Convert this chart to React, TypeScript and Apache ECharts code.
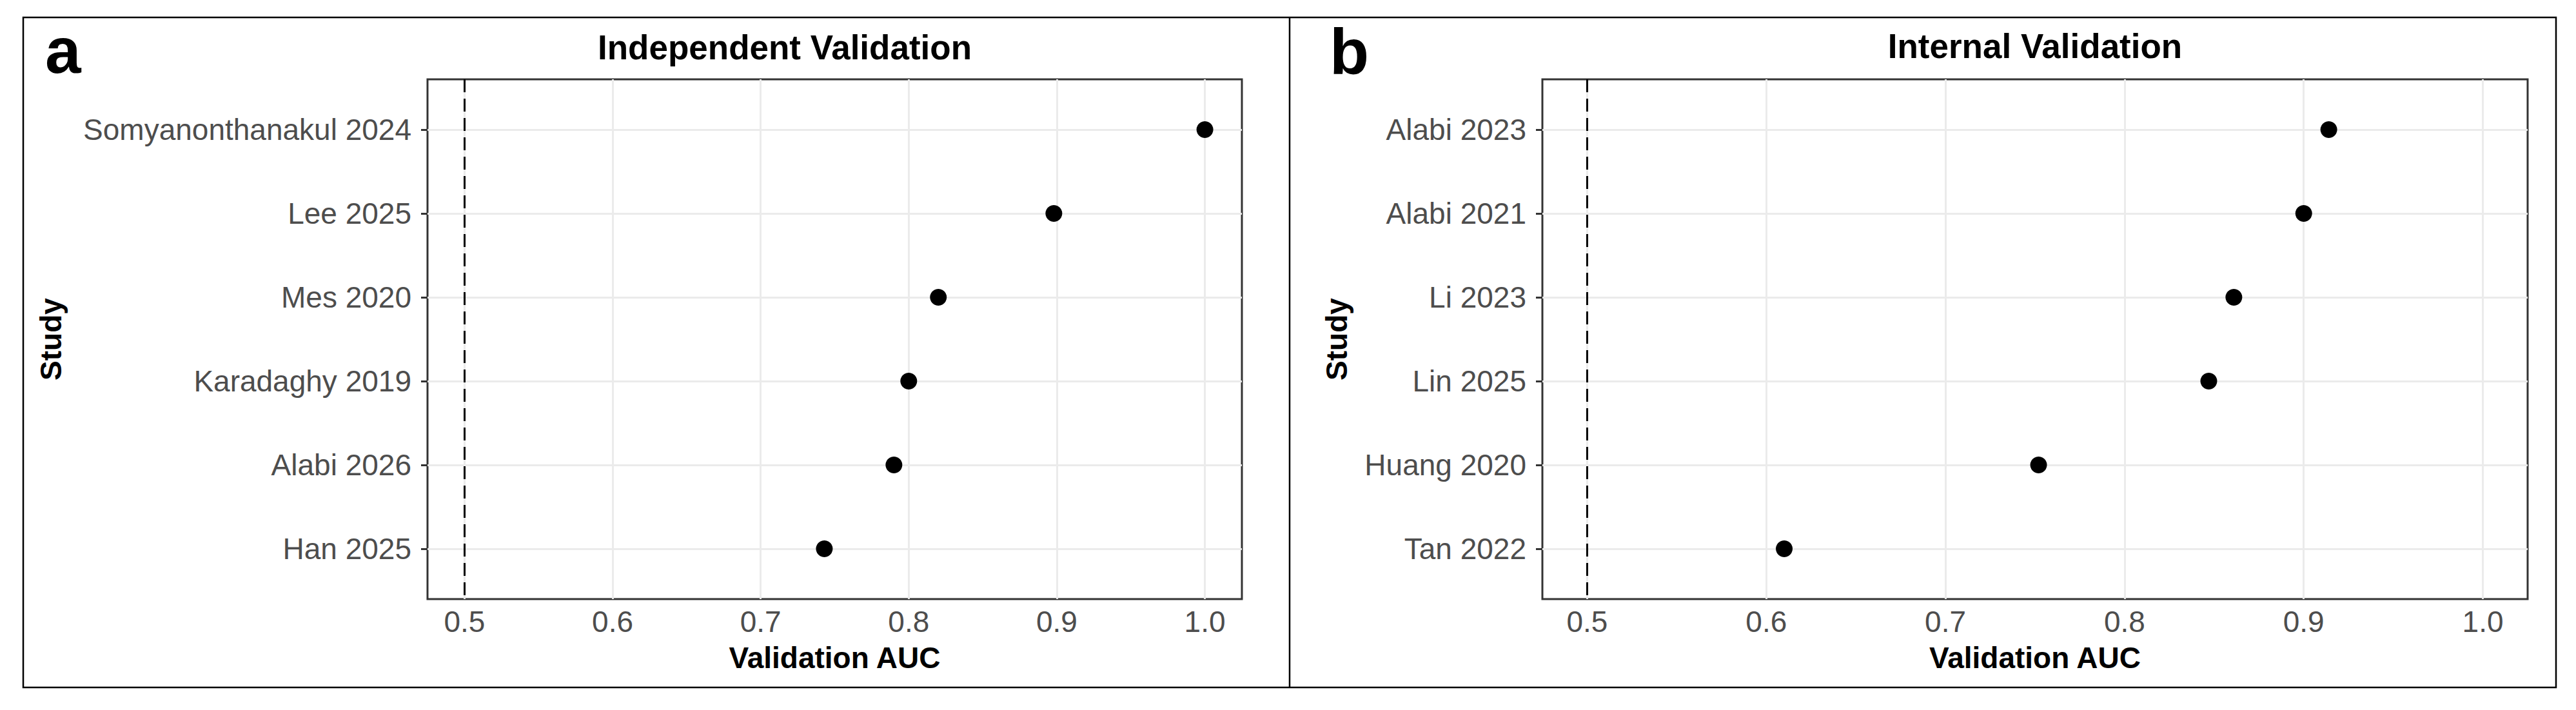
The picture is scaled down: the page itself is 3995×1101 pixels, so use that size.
import React, { useEffect, useRef } from 'react';
import * as echarts from 'echarts';

// panel a: independent validation, top to bottom
const studiesA = ['Somyanonthanakul 2024', 'Lee 2025', 'Mes 2020', 'Karadaghy 2019', 'Alabi 2026', 'Han 2025'];
const aucA = [1.0, 0.898, 0.82, 0.8, 0.79, 0.743];

// panel b: internal validation, top to bottom
const studiesB = ['Alabi 2023', 'Alabi 2021', 'Li 2023', 'Lin 2025', 'Huang 2020', 'Tan 2022'];
const aucB = [0.914, 0.9, 0.861, 0.847, 0.752, 0.61];

const aucTicks = [0.5, 0.6, 0.7, 0.8, 0.9, 1.0];
const refAuc = 0.5;
const panelTitles = ['Independent Validation', 'Internal Validation'];
const panelLetters = ['a', 'b'];

const FONT = '"Liberation Sans", Arial, Helvetica, sans-serif';
const TICK_COLOR = '#333333';
const LABEL_COLOR = '#4d4d4d';
const GRID_COLOR = '#ebebeb';

const buildPanel = (idx: number, studies: string[], auc: number[], nameGap: number) => {
    const rows = studies.map((_, i) => i);
    const xAxis = {
        type: 'value',
        gridIndex: idx,
        min: 0.475,
        max: 1.025,
        axisLine: { show: false },
        axisTick: {
            show: true,
            customValues: aucTicks,
            length: 10,
            lineStyle: { color: TICK_COLOR, width: 3 },
        },
        axisLabel: {
            customValues: aucTicks,
            formatter: (v: number) => v.toFixed(1),
            color: LABEL_COLOR,
            fontSize: 46,
            fontFamily: FONT,
            margin: 35,
            verticalAlign: 'middle',
        },
        splitLine: { show: false },
        name: 'Validation AUC',
        nameLocation: 'middle',
        nameGap: 91,
        nameTextStyle: {
            fontSize: 46,
            fontWeight: 'bold',
            color: '#000',
            fontFamily: FONT,
            verticalAlign: 'middle',
        },
    };
    const yAxis = {
        type: 'value',
        gridIndex: idx,
        min: -0.6,
        max: 5.6,
        inverse: true,
        axisLine: { show: false },
        axisTick: {
            show: true,
            customValues: rows,
            length: 10,
            lineStyle: { color: TICK_COLOR, width: 3 },
        },
        axisLabel: {
            customValues: rows,
            formatter: (v: number) => studies[Math.round(v)] ?? '',
            color: LABEL_COLOR,
            fontSize: 46,
            fontFamily: FONT,
            margin: 25,
        },
        splitLine: { show: false },
        name: 'Study',
        nameLocation: 'middle',
        nameRotate: 90,
        nameGap: nameGap,
        nameTextStyle: {
            fontSize: 46,
            fontWeight: 'bold',
            color: '#000',
            fontFamily: FONT,
            verticalAlign: 'middle',
        },
    };
    const series = [
        {
            // background grid lines
            type: 'scatter',
            xAxisIndex: idx,
            yAxisIndex: idx,
            data: [],
            silent: true,
            markLine: {
                z: 1,
                silent: true,
                symbol: 'none',
                label: { show: false },
                lineStyle: { color: GRID_COLOR, width: 3, type: 'solid' },
                data: [
                    ...aucTicks.map((v) => ({ xAxis: v })),
                    ...rows.map((r) => ({ yAxis: r })),
                ],
            },
        },
        {
            type: 'scatter',
            xAxisIndex: idx,
            yAxisIndex: idx,
            z: 4,
            symbolSize: 26,
            itemStyle: { color: '#000', opacity: 1 },
            emphasis: { disabled: true },
            data: auc.map((v, i) => [v, i]),
            markLine: {
                z: 3,
                silent: true,
                symbol: 'none',
                label: { show: false },
                lineStyle: { color: '#000', width: 3, type: [20, 10], opacity: 1 },
                data: [{ xAxis: refAuc }],
            },
        },
    ];
    return { xAxis, yAxis, series };
};

const App: React.FC = () => {
    const chartRef = useRef<HTMLDivElement>(null);

    useEffect(() => {
        if (!chartRef.current) return;
        const chart = echarts.init(chartRef.current, null, { renderer: 'svg' });

        const a = buildPanel(0, studiesA, aucA, 584);
        const b = buildPanel(1, studiesB, aucB, 319);
        const plotBorder = { show: true, borderColor: TICK_COLOR, borderWidth: 3, backgroundColor: '#fff' };

        chart.setOption({
            animation: false,
            backgroundColor: '#fff',
            grid: [
                { left: 663, top: 123, width: 1263, height: 806, ...plotBorder },
                { left: 2392, top: 123, width: 1528, height: 806, ...plotBorder },
            ],
            xAxis: [a.xAxis, b.xAxis],
            yAxis: [a.yAxis, b.yAxis],
            series: [...a.series, ...b.series],
            graphic: [
                {
                    type: 'rect',
                    shape: { x: 36, y: 27, width: 3928, height: 1039 },
                    style: { fill: 'none', stroke: '#000', lineWidth: 2.5 },
                    silent: true,
                },
                {
                    type: 'line',
                    shape: { x1: 2000, y1: 27, x2: 2000, y2: 1066 },
                    style: { stroke: '#000', lineWidth: 2.5 },
                    silent: true,
                },
                {
                    type: 'text',
                    x: 70,
                    y: 78,
                    style: { text: panelLetters[0], font: `bold 100px ${FONT}`, fill: '#000', textAlign: 'left', textVerticalAlign: 'middle' },
                },
                {
                    type: 'text',
                    x: 2062,
                    y: 80,
                    style: { text: panelLetters[1], font: `bold 100px ${FONT}`, fill: '#000', textAlign: 'left', textVerticalAlign: 'middle' },
                },
                {
                    type: 'text',
                    x: 1217,
                    y: 73,
                    style: { text: panelTitles[0], font: `bold 53px ${FONT}`, fill: '#000', textAlign: 'center', textVerticalAlign: 'middle' },
                },
                {
                    type: 'text',
                    x: 3156,
                    y: 71,
                    style: { text: panelTitles[1], font: `bold 53px ${FONT}`, fill: '#000', textAlign: 'center', textVerticalAlign: 'middle' },
                },
            ],
        });

        return () => {
            chart.dispose();
        };
    }, []);

    return (
        <div
            ref={chartRef}
            style={{ position: 'absolute', left: 0, top: 0, width: '3995px', height: '1101px' }}
        />
    );
};

export default App;
